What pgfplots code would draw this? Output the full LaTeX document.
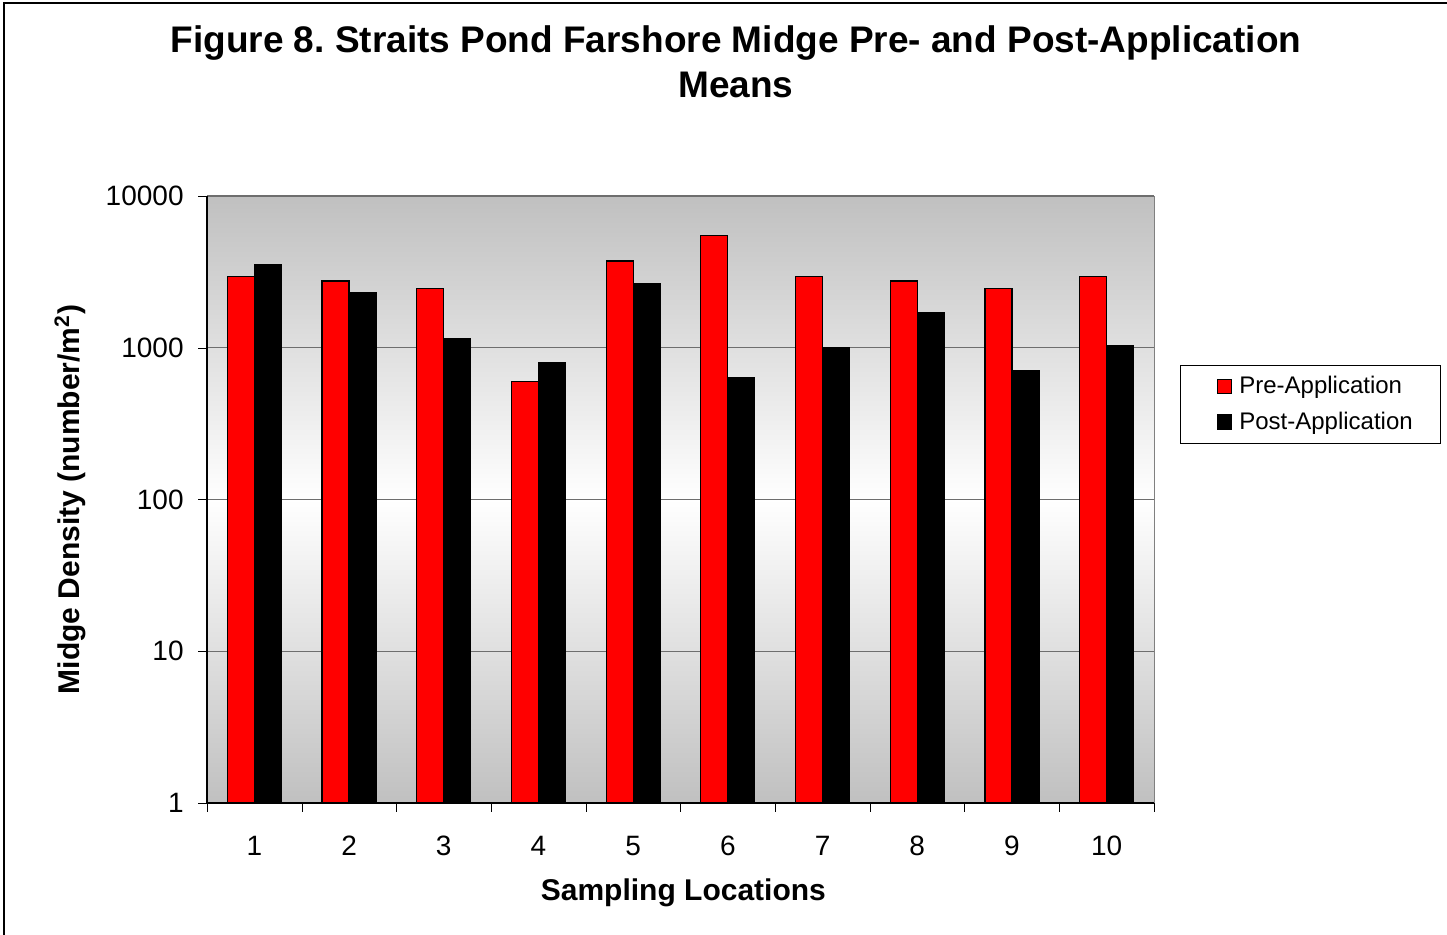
\documentclass[border=0pt]{standalone}
\usepackage{fontspec}
\setmainfont{Liberation Sans}
\usepackage{pgfplots}
\pgfplotsset{compat=1.18}
\definecolor{bggray}{RGB}{192,192,192}
\definecolor{gridgray}{RGB}{110,110,110}
\definecolor{preRed}{RGB}{255,0,0}
\frenchspacing

\begin{document}
\begin{tikzpicture}
\useasboundingbox (0,0) rectangle (723.5pt,467.5pt);
% outer chart frame (right and bottom edges fall outside the picture)
\draw[line width=1pt] (2pt,0pt) -- (2pt,466pt) -- (723.5pt,466pt);
\node[align=center, font=\bfseries\fontsize{18.5}{22.5}\selectfont] at (368pt,436.5pt)
  {Figure 8. Straits Pond Farshore Midge Pre- and Post-Application\\Means};

\begin{axis}[
    at={(103.5pt,66pt)}, anchor=south west,
    width=473.5pt, height=303.5pt, scale only axis,
    ymode=log, ymin=1, ymax=10000,
    xmin=0.5, xmax=10.5,
    ybar=0pt, bar width=0.285,
    axis x line*=bottom, axis y line*=left,
    axis line style={black, line width=0.6pt},
    axis background/.style={shade, top color=bggray, bottom color=bggray, middle color=white, draw=gray},
    ymajorgrids, yminorgrids=false, yminorticks=false,
    y grid style={gridgray, line width=0.6pt},
    ytick={1,10,100,1000,10000},
    yticklabels={1,10,100,1000,10000},
    xtick={1,...,10},
    xticklabels={1,2,3,4,5,6,7,8,9,10},
    xtick style={draw=none},
    extra x ticks={0.5,1.5,...,10.5},
    extra x tick labels={},
    extra x tick style={xtick style={draw=black}, grid=none},
    tick align=outside, major tick length=4.5pt,
    ytick style={black},
    ticklabel style={font=\fontsize{14}{16}\selectfont},
    /pgf/number format/assume math mode=true,
    xticklabel style={inner sep=0pt, yshift=-12pt},
    yticklabel style={inner sep=0pt, xshift=-7pt},
    xlabel={Sampling Locations},
    ylabel={Midge Density (number/m\textsuperscript{2})},
    label style={font=\bfseries\fontsize{15}{18}\selectfont},
    xlabel style={at={(axis description cs:0.503,-0.1486)}, anchor=center},
    ylabel style={at={(axis description cs:-0.1445,0.5)}, anchor=center},
    legend style={at={(axis description cs:1.0274,0.7216)}, anchor=north west,
        draw=black, fill=white, font=\fontsize{12}{14}\selectfont,
        inner xsep=13pt, inner ysep=4.5pt, row sep=5.5pt,
        nodes={inner sep=1pt}},
    legend cell align=left,
    legend image code/.code={
        \draw[#1, draw=black] (0pt,-3.5pt) rectangle (7pt,3.5pt);
        \draw[draw=none, fill=none] (-5.5pt,0pt) -- (10pt,0pt);},
]
\addplot[fill=preRed, draw=black, line width=0.6pt] coordinates {
(1,2965) (2,2750) (3,2450) (4,596) (5,3730)
(6,5520) (7,2965) (8,2750) (9,2450) (10,2965)
};
\addlegendentry{Pre-Application}
\addplot[fill=black, draw=black, line width=0.6pt] coordinates {
(1,3510) (2,2325) (3,1152) (4,796) (5,2665)
(6,635) (7,1000) (8,1706) (9,711) (10,1026)
};
\addlegendentry{Post-Application}
\end{axis}
\end{tikzpicture}
\end{document}
